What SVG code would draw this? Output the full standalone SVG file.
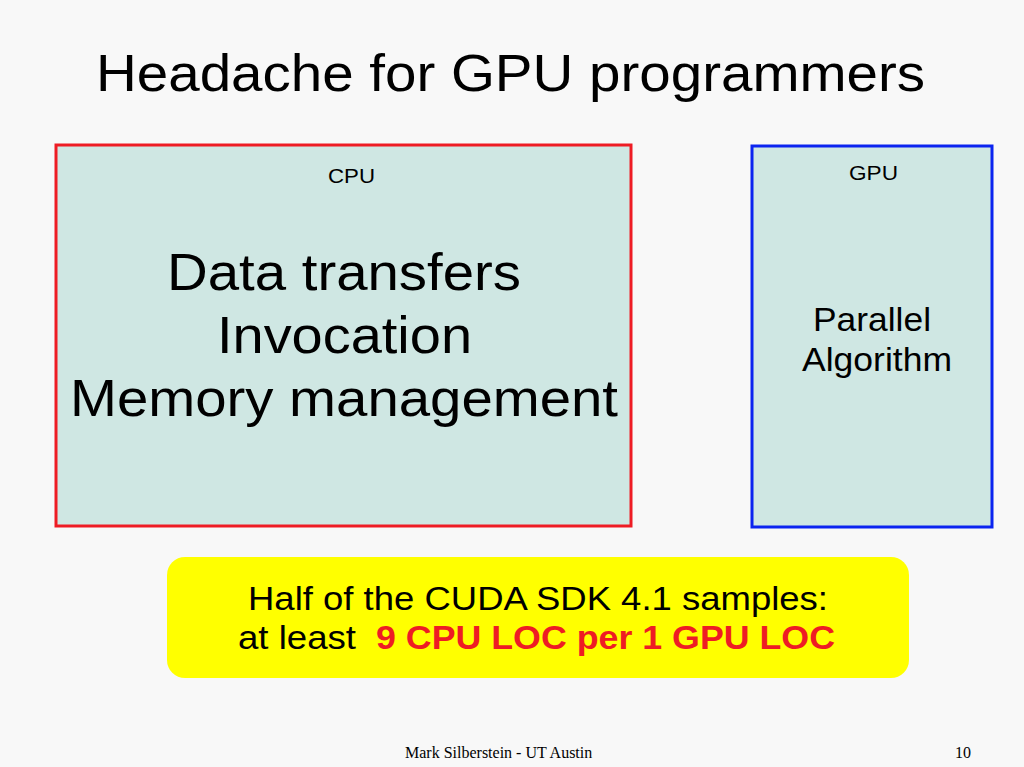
<svg xmlns="http://www.w3.org/2000/svg" width="1024" height="767" viewBox="0 0 1024 767">
<style>
.s{font-family:"Liberation Sans",Arial,sans-serif;fill:#000}
.box{fill:#cfe7e3;stroke-width:3}
</style>
<rect width="1024" height="767" fill="#f8f8f8"/>
<text class="s" x="96" y="91" font-size="52" textLength="829" lengthAdjust="spacingAndGlyphs">Headache for GPU programmers</text>
<g id="cpu">
<rect class="box" x="56" y="145" width="575" height="381" stroke="#ee1c24"/>
<text class="s" x="328" y="183" font-size="21" textLength="47" lengthAdjust="spacingAndGlyphs">CPU</text>
<text class="s" x="167" y="290" font-size="52" textLength="354" lengthAdjust="spacingAndGlyphs">Data transfers</text>
<text class="s" x="217" y="353" font-size="52" textLength="255" lengthAdjust="spacingAndGlyphs">Invocation</text>
<text class="s" x="70" y="416" font-size="52" textLength="548" lengthAdjust="spacingAndGlyphs">Memory management</text>
</g>
<g id="gpu">
<rect class="box" x="752" y="146" width="240" height="381" stroke="#0b24f0"/>
<text class="s" x="849" y="180" font-size="21" textLength="49" lengthAdjust="spacingAndGlyphs">GPU</text>
<text class="s" x="813" y="331" font-size="33" textLength="118" lengthAdjust="spacingAndGlyphs">Parallel</text>
<text class="s" x="802" y="371" font-size="33" textLength="150" lengthAdjust="spacingAndGlyphs">Algorithm</text>
</g>
<g id="note">
<rect x="167" y="557" width="742" height="121" rx="18" fill="#ffff00"/>
<text class="s" x="248" y="610" font-size="33" textLength="580" lengthAdjust="spacingAndGlyphs">Half of the CUDA  SDK 4.1 samples:</text>
<text class="s" x="238" y="649" font-size="33" textLength="118" lengthAdjust="spacingAndGlyphs">at least</text>
<text class="s" x="376" y="649" font-size="33" fill="#ee1c24" style="fill:#ee1c24" font-weight="bold" textLength="459" lengthAdjust="spacingAndGlyphs">9 CPU LOC per 1 GPU LOC</text>
</g>
<g id="connectors"/>
<text x="405" y="758" font-size="16" font-family="Liberation Serif,serif">Mark Silberstein - UT Austin</text>
<text x="963" y="758" font-size="16" text-anchor="middle" font-family="Liberation Serif,serif">10</text>
</svg>
